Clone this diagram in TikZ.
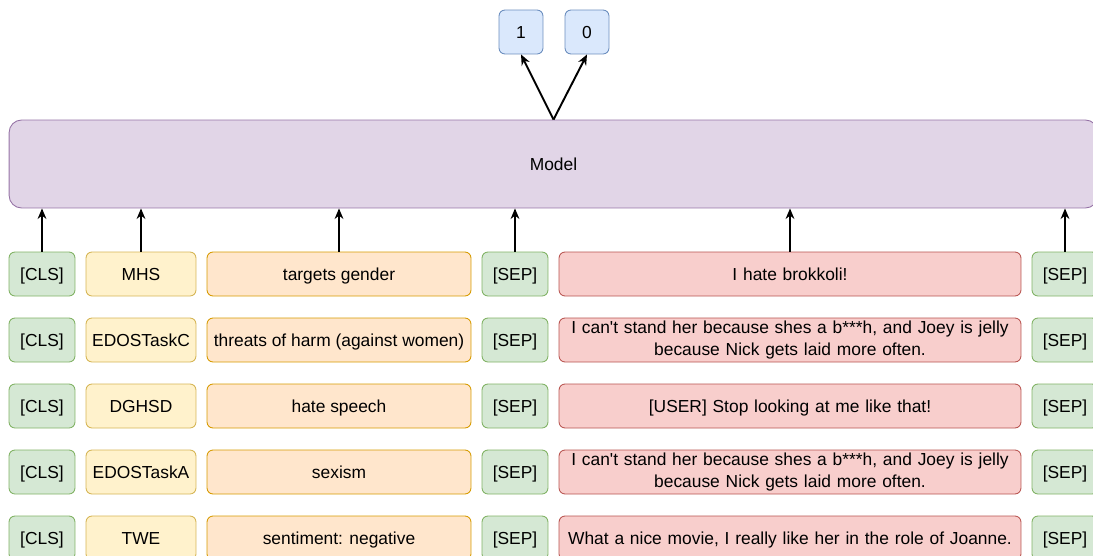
\documentclass[tikz,border=0pt]{standalone}
\usepackage{fontspec}
\setmainfont{Liberation Sans}
\usetikzlibrary{arrows.meta}
\definecolor{clsgreen}{HTML}{D5E8D4}
\definecolor{clsgreenline}{HTML}{82B366}
\definecolor{taskyellow}{HTML}{FFF2CC}
\definecolor{taskyellowline}{HTML}{D6B656}
\definecolor{targetorange}{HTML}{FFE6CC}
\definecolor{targetorangeline}{HTML}{D79B00}
\definecolor{textred}{HTML}{F8CECC}
\definecolor{textredline}{HTML}{B85450}
\definecolor{modelpurple}{HTML}{E1D5E7}
\definecolor{modelpurpleline}{HTML}{9673A6}
\definecolor{outblue}{HTML}{DAE8FC}
\definecolor{outblueline}{HTML}{6C8EBF}

\tikzset{
    tok/.style={draw, line width=0.5pt, rounded corners=0.12cm, minimum height=0.88cm,
        inner sep=1pt, align=center, font=\fontsize{9.9}{12}\selectfont},
    single/.style={text height=7.6pt, text depth=0.6pt},
    clsbox/.style={tok, single, fill=clsgreen, draw=clsgreenline, minimum width=1.32cm},
    taskbox/.style={tok, single, fill=taskyellow, draw=taskyellowline, minimum width=2.2cm},
    targetbox/.style={tok, single, fill=targetorange, draw=targetorangeline, minimum width=5.28cm},
    textbox/.style={tok, fill=textred, draw=textredline, minimum width=9.24cm, text width=9.1cm},
    outbox/.style={tok, single, fill=outblue, draw=outblueline, minimum width=0.88cm},
    arr/.style={-{Stealth[length=6pt,width=5pt]}, line width=1.1pt}
}

\begin{document}
\begin{tikzpicture}[x=0.02cm, y=-0.02cm]
    \useasboundingbox (0,0) rectangle (1093,555);
    \clip (0,0) rectangle (1093,555);

    % Outputs
    \node[outbox] (one) at (521,32) {1};
    \node[outbox] (zero) at (587,32) {0};

    % Model
    \node[tok, single, fill=modelpurple, draw=modelpurpleline, rounded corners=0.25cm,
        minimum width=21.78cm, minimum height=1.76cm] (model) at (553.5,164) {Model};
    \draw[arr] (model.north) -- (one.south);
    \draw[arr] (model.north) -- (zero.south);

    % Row 1: MHS
    \node[clsbox] (cls1) at (42,274) {[CLS]};
    \node[taskbox] (task1) at (141,274) {MHS};
    \node[targetbox] (target1) at (339,274) {targets gender};
    \node[clsbox] (sep1) at (515,274) {[SEP]};
    \node[textbox, single] (text1) at (790,274) {I hate brokkoli!};
    \node[clsbox] (end1) at (1065,274) {[SEP]};

    % Row 2: EDOSTaskC
    \node[clsbox] (cls2) at (42,340) {[CLS]};
    \node[taskbox] (task2) at (141,340) {EDOSTaskC};
    \node[targetbox] (target2) at (339,340) {threats of harm (against women)};
    \node[clsbox] (sep2) at (515,340) {[SEP]};
    \node[textbox] (text2) at (790,340) {I can\textquotesingle t stand her because shes a b***h, and Joey is jelly\\because Nick gets laid more often.};
    \node[clsbox] (end2) at (1065,340) {[SEP]};

    % Row 3: DGHSD
    \node[clsbox] (cls3) at (42,406) {[CLS]};
    \node[taskbox] (task3) at (141,406) {DGHSD};
    \node[targetbox] (target3) at (339,406) {hate speech};
    \node[clsbox] (sep3) at (515,406) {[SEP]};
    \node[textbox, single] (text3) at (790,406) {[USER] Stop looking at me like that!};
    \node[clsbox] (end3) at (1065,406) {[SEP]};

    % Row 4: EDOSTaskA
    \node[clsbox] (cls4) at (42,472) {[CLS]};
    \node[taskbox] (task4) at (141,472) {EDOSTaskA};
    \node[targetbox] (target4) at (339,472) {sexism};
    \node[clsbox] (sep4) at (515,472) {[SEP]};
    \node[textbox] (text4) at (790,472) {I can\textquotesingle t stand her because shes a b***h, and Joey is jelly\\because Nick gets laid more often.};
    \node[clsbox] (end4) at (1065,472) {[SEP]};

    % Row 5: TWE
    \node[clsbox] (cls5) at (42,538) {[CLS]};
    \node[taskbox] (task5) at (141,538) {TWE};
    \node[targetbox] (target5) at (339,538) {sentiment: negative};
    \node[clsbox] (sep5) at (515,538) {[SEP]};
    \node[textbox, single] (text5) at (790,538) {What a nice movie, I really like her in the role of Joanne.};
    \node[clsbox] (end5) at (1065,538) {[SEP]};

    % Inputs into the model
    \draw[arr] (cls1.north) -- (cls1.north |- model.south);
    \draw[arr] (task1.north) -- (task1.north |- model.south);
    \draw[arr] (target1.north) -- (target1.north |- model.south);
    \draw[arr] (sep1.north) -- (sep1.north |- model.south);
    \draw[arr] (text1.north) -- (text1.north |- model.south);
    \draw[arr] (end1.north) -- (end1.north |- model.south);
\end{tikzpicture}
\end{document}
